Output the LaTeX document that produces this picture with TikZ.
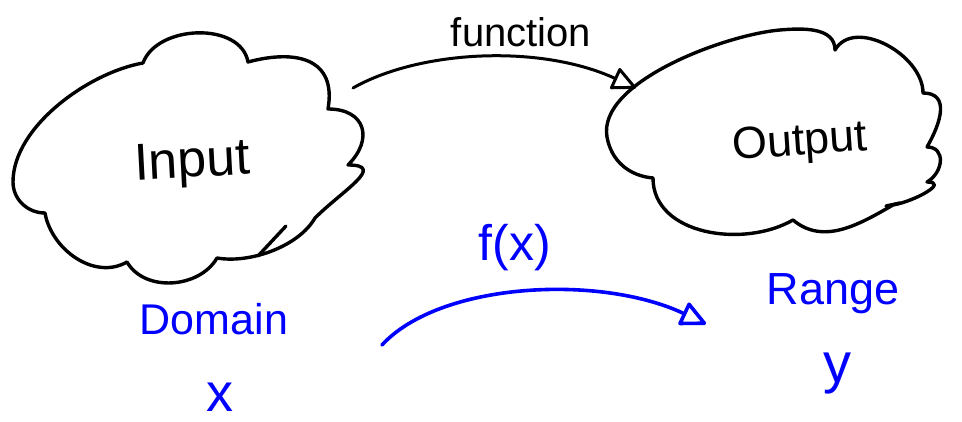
\documentclass[tikz,border=0pt]{standalone}
\usepackage{fontspec}
\setmainfont{Liberation Sans}
\usetikzlibrary{arrows.meta}
\begin{document}
\begin{tikzpicture}[x=1pt,y=1pt,
  cloudline/.style={line width=3.4pt, line join=round, line cap=round},
  blackarrow/.style={line width=3pt, line cap=round, -{Triangle[open,length=26pt,width=24pt,round]}},
  bluearrow/.style={blue, line width=3.6pt, line cap=round, -{Triangle[open,length=28pt,width=26pt,round]}},
  blacklabel/.style={anchor=base, inner sep=0pt, text=black},
  bluelabel/.style={anchor=base, inner sep=0pt, text=blue}]
\useasboundingbox (0,0) rectangle (962,422);
% left cloud
\draw[cloudline]
  (143,359) to[out=70,in=100] (248,360)
  to[out=15,in=80,looseness=1.4] (328,313)
  to[out=0,in=45,looseness=1.6] (348,257)
  to[out=0,in=45,looseness=1.6] (315,204)
  to[out=-120,in=-10,looseness=0.8] (217,164)
  to[out=-120,in=-60] (127,160)
  to[out=-150,in=-80] (45,209)
  to[out=180,in=-90] (13,240)
  to[out=90,in=190,looseness=0.8] (143,359);
\draw[cloudline] (286,196) -- (258,166);
% right cloud
\draw[cloudline]
  (835,372) to[out=60,in=90] (923,329)
  to[out=0,in=60,looseness=1.3] (927,275)
  to[out=0,in=30,looseness=1.4] (927,240)
  to[out=0,in=10,looseness=1.4] (893,217)
  to[out=-150,in=-40] (793,202)
  to[out=-150,in=-90] (653,244)
  to[out=175,in=-80] (607,285)
  to[out=100,in=185,looseness=0.7] (780,392)
  to[out=5,in=90] (835,372);
\draw[cloudline] (886,216) -- (900,219);
% labels
\node[blacklabel, font=\fontsize{40}{40}\selectfont] (fn) at (521,375) {function};
\node[blacklabel, font=\fontsize{52}{52}\selectfont, rotate=3] (in) at (193,245) {Input};
\node[blacklabel, font=\fontsize{45}{45}\selectfont, rotate=4] (out) at (801,267) {Output};
\node[bluelabel, font=\fontsize{50}{50}\selectfont] (fx) at (515,161) {f(x)};
\node[bluelabel, font=\fontsize{43}{43}\selectfont] (dom) at (214,87) {Domain};
\node[bluelabel, font=\fontsize{54}{54}\selectfont] (xv) at (220,10) {x};
\node[bluelabel, font=\fontsize{45}{45}\selectfont] (rng) at (833,117) {Range};
\node[bluelabel, font=\fontsize{56}{56}\selectfont] (yv) at (837,39) {y};
% arrows
\coordinate (a1) at (353,334);
\coordinate (a2) at (636,334);
\draw[blackarrow] (a1) .. controls (420,372) and (540,378) .. (a2);
\coordinate (b1) at (382,77);
\coordinate (b2) at (706,98);
\draw[bluearrow] (b1) .. controls (440,140) and (600,148) .. (b2);
\end{tikzpicture}
\end{document}
